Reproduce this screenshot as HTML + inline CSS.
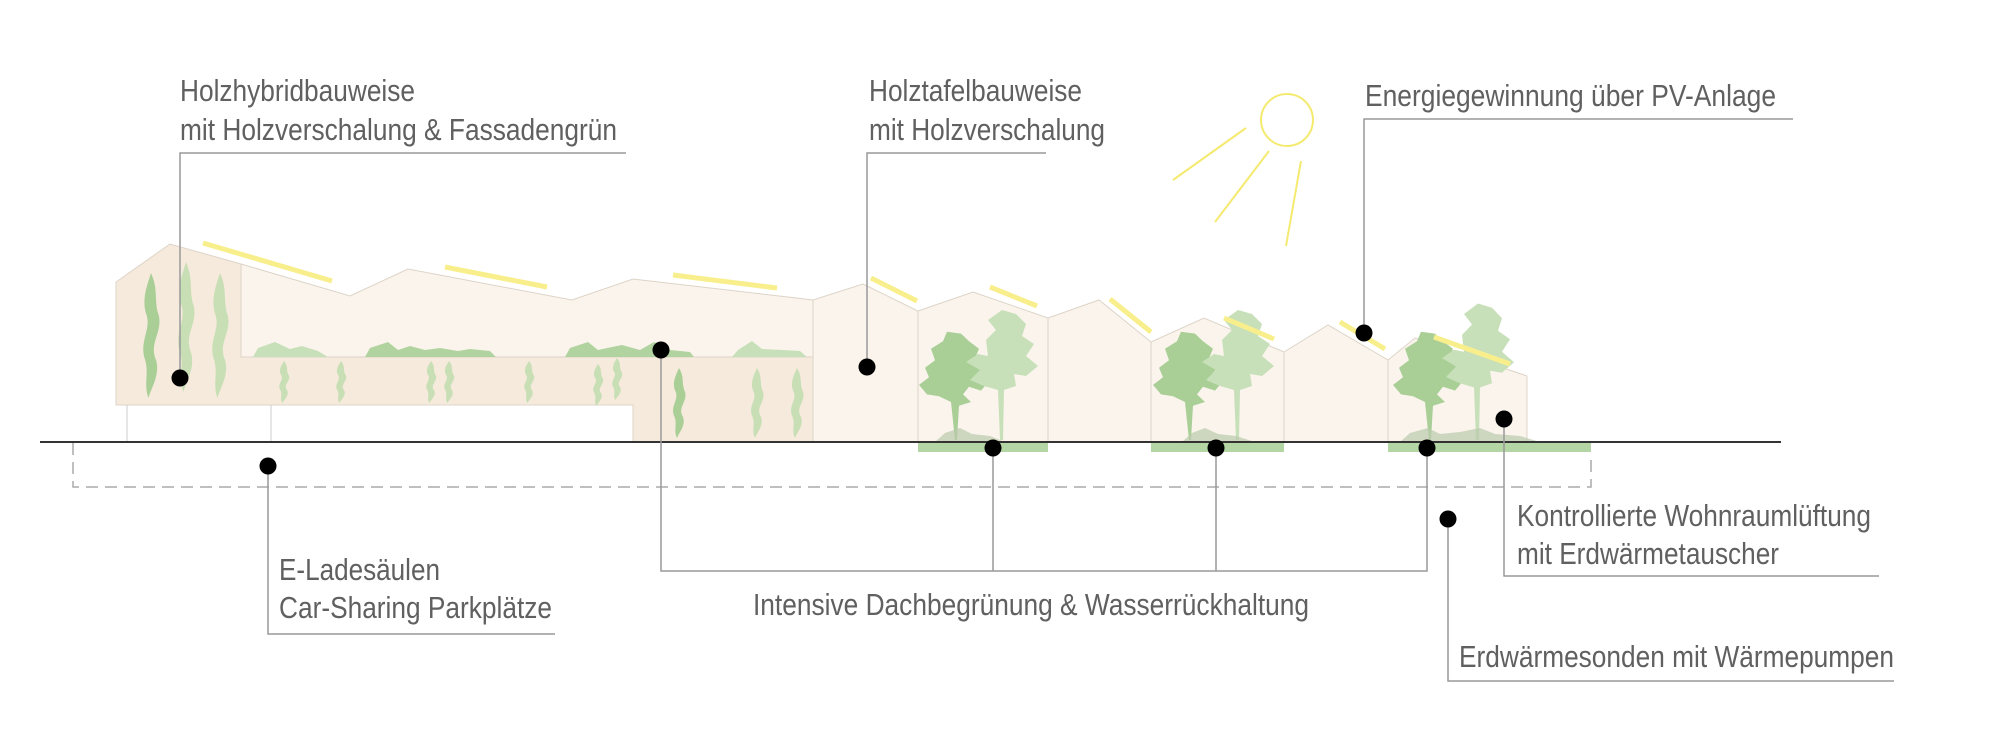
<!DOCTYPE html>
<html><head><meta charset="utf-8"><style>
html,body{margin:0;padding:0;background:#fff}
svg{display:block}
text{font-family:"Liberation Sans",sans-serif;font-size:31px;fill:#606060}
</style></head><body>
<svg width="2000" height="750" viewBox="0 0 2000 750" xmlns="http://www.w3.org/2000/svg">
<defs>
<path id="vine" d="M0,0 C6,14 2,22 6,34 C9,48 -2,56 4,70 C7,82 0,92 -2,100 C-6,88 -1,80 -5,68 C-9,54 1,44 -4,32 C-7,20 -3,10 0,0 Z"/>
<g id="treeD">
<path d="M0,0 L-4,-40 L-16,-46 L-28,-48 L-36,-58 L-26,-66 L-30,-76 L-20,-84 L-24,-96 L-12,-104 L-8,-114 L6,-112 L14,-104 L24,-96 L20,-86 L30,-78 L22,-68 L34,-62 L26,-52 L14,-56 L8,-48 L16,-40 L4,-36 L2,0 Z" fill="#a9cf97"/>
</g>
<g id="treeL">
<path d="M0,0 L-2,-50 L-16,-54 L-30,-60 L-20,-70 L-34,-78 L-22,-86 L-12,-84 L-14,-100 L-4,-110 L-12,-120 L2,-130 L16,-126 L26,-116 L22,-104 L34,-96 L26,-84 L38,-74 L26,-64 L14,-66 L16,-54 L4,-50 L3,0 Z" fill="#c8e0b9"/>
</g>
</defs>

<polygon points="241,264 350,296 408,269 572,300 633,279 813,300 813,357 241,357" fill="#faf4ec" stroke="#ddd4c8" stroke-width="1"/>
<polygon points="116,282 170,244 241,264 241,357 813,357 813,442 633,442 633,405 116,405" fill="#f5eadb" stroke="#ddd4c8" stroke-width="1"/>
<line x1="127" y1="405" x2="127" y2="442" stroke="#ccc" stroke-width="1"/>
<line x1="271" y1="405" x2="271" y2="442" stroke="#ccc" stroke-width="1"/>
<g fill="#c8e0b9">
<polygon points="253,357 258,348 275,342 290,349 302,346 318,351 328,357"/>
<polygon points="732,357 738,350 752,341 762,349 782,350 800,351 807,357"/>
</g>
<g fill="#a9cf97" opacity="0.9">
<polygon points="365,357 370,348 388,342 398,350 410,346 425,350 440,348 458,351 470,349 490,351 496,357"/>
<polygon points="565,357 570,348 588,342 598,350 612,347 622,345 640,350 654,342 670,350 690,352 694,357"/>
</g>
<g fill="#a9cf97">
<use href="#vine" transform="translate(151,273) scale(1.3,1.25)"/>
<use href="#vine" transform="translate(679,368) scale(1,0.7)"/>
</g>
<g fill="#c8dfb6">
<use href="#vine" transform="translate(186,262) scale(1.3,1.3)"/>
<use href="#vine" transform="translate(220,273) scale(1.3,1.25)"/>
<use href="#vine" transform="translate(284,361) scale(0.8,0.42)"/>
<use href="#vine" transform="translate(341,361) scale(0.8,0.42)"/>
<use href="#vine" transform="translate(431,361) scale(0.8,0.42)"/>
<use href="#vine" transform="translate(449,361) scale(0.8,0.42)"/>
<use href="#vine" transform="translate(529,361) scale(0.8,0.42)"/>
<use href="#vine" transform="translate(598,364) scale(0.8,0.42)"/>
<use href="#vine" transform="translate(617,358) scale(0.8,0.42)"/>
<use href="#vine" transform="translate(757,368) scale(1,0.7)"/>
<use href="#vine" transform="translate(797,368) scale(1,0.7)"/>
</g>

<g fill="#faf4ec" stroke="#ddd4c8" stroke-width="1">
<polygon points="813,300 863,284 918,311 918,442 813,442"/>
<polygon points="918,311 973,292 1048,318 1048,442 918,442"/>
<polygon points="1048,318 1099,300 1151,342 1151,442 1048,442"/>
<polygon points="1151,342 1204,318 1284,352 1284,442 1151,442"/>
<polygon points="1284,352 1328,325 1388,360 1388,442 1284,442"/>
<polygon points="1388,360 1415,338 1527,376 1527,442 1388,442"/>
</g>
<use href="#treeD" transform="translate(955,440) scale(1,0.95)"/>
<use href="#treeL" transform="translate(1000,440) scale(1,1)"/>
<use href="#treeD" transform="translate(1189,440) scale(1,0.95)"/>
<use href="#treeL" transform="translate(1236,440) scale(1,1)"/>
<use href="#treeD" transform="translate(1429,440) scale(1,0.95)"/>
<use href="#treeL" transform="translate(1476,440) scale(1,1.05)"/>
<g fill="#b9c9ad" opacity="0.7">
<polygon points="935,442 945,433 960,428 972,434 990,436 1005,442"/>
<polygon points="1182,442 1192,433 1205,428 1218,434 1236,436 1255,442"/>
<polygon points="1400,442 1410,433 1428,428 1440,434 1460,432 1480,428 1495,434 1520,436 1540,442"/>
</g>

<g stroke="#f8ef8c" stroke-width="5">
<line x1="203" y1="243" x2="332" y2="281"/>
<line x1="445" y1="267" x2="547" y2="287"/>
<line x1="673" y1="275" x2="777" y2="288"/>
<line x1="871" y1="278" x2="917" y2="301"/>
<line x1="990" y1="287" x2="1037" y2="306"/>
<line x1="1110" y1="299" x2="1151" y2="332"/>
<line x1="1224" y1="318" x2="1274" y2="339"/>
<line x1="1340" y1="322" x2="1385" y2="349"/>
<line x1="1434" y1="337" x2="1510" y2="364"/>
</g>
<g stroke="#f5ea70" stroke-width="2" fill="none">
<circle cx="1287" cy="120" r="26"/>
<line x1="1246" y1="128" x2="1173" y2="180"/>
<line x1="1269" y1="151" x2="1215" y2="222"/>
<line x1="1301" y1="161" x2="1286" y2="246"/>
</g>

<g fill="#b3d6a4">
<rect x="918" y="442" width="130" height="10"/>
<rect x="1151" y="442" width="133" height="10"/>
<rect x="1388" y="442" width="203" height="10"/>
</g>
<line x1="40" y1="442" x2="1781" y2="442" stroke="#333" stroke-width="2"/>
<path d="M73,443 V487 H1591 V455" fill="none" stroke="#aaa" stroke-width="1.5" stroke-dasharray="12,7"/>

<g stroke="#999" stroke-width="1.5" fill="none">
<polyline points="180,378 180,153 626,153"/>
<polyline points="867,367 867,153 1046,153"/>
<polyline points="1364,333 1364,119 1793,119"/>
<polyline points="268,466 268,634 555,634"/>
<polyline points="661,350 661,571 1427,571 1427,448"/>
<line x1="993" y1="448" x2="993" y2="571"/>
<line x1="1216" y1="448" x2="1216" y2="571"/>
<polyline points="1504,419 1504,576 1879,576"/>
<polyline points="1448,519 1448,681 1894,681"/>
</g>
<g fill="#000">
<circle cx="180" cy="378" r="8.5"/>
<circle cx="867" cy="367" r="8.5"/>
<circle cx="661" cy="350" r="8.5"/>
<circle cx="1364" cy="333" r="8.5"/>
<circle cx="268" cy="466" r="8.5"/>
<circle cx="993" cy="448" r="8.5"/>
<circle cx="1216" cy="448" r="8.5"/>
<circle cx="1427" cy="448" r="8.5"/>
<circle cx="1504" cy="419" r="8.5"/>
<circle cx="1448" cy="519" r="8.5"/>
</g>

<text x="180" y="101" textLength="235" lengthAdjust="spacingAndGlyphs">Holzhybridbauweise</text>
<text x="180" y="140" textLength="437" lengthAdjust="spacingAndGlyphs">mit Holzverschalung &amp; Fassadengrün</text>
<text x="869" y="101" textLength="213" lengthAdjust="spacingAndGlyphs">Holztafelbauweise</text>
<text x="869" y="140" textLength="236" lengthAdjust="spacingAndGlyphs">mit Holzverschalung</text>
<text x="1365" y="106" textLength="411" lengthAdjust="spacingAndGlyphs">Energiegewinnung über PV-Anlage</text>
<text x="279" y="580" textLength="161" lengthAdjust="spacingAndGlyphs">E-Ladesäulen</text>
<text x="279" y="618" textLength="273" lengthAdjust="spacingAndGlyphs">Car-Sharing Parkplätze</text>
<text x="753" y="615" textLength="556" lengthAdjust="spacingAndGlyphs">Intensive Dachbegrünung &amp; Wasserrückhaltung</text>
<text x="1517" y="526" textLength="354" lengthAdjust="spacingAndGlyphs">Kontrollierte Wohnraumlüftung</text>
<text x="1517" y="564" textLength="262" lengthAdjust="spacingAndGlyphs">mit Erdwärmetauscher</text>
<text x="1459" y="667" textLength="435" lengthAdjust="spacingAndGlyphs">Erdwärmesonden mit Wärmepumpen</text>
</svg>
</body></html>
